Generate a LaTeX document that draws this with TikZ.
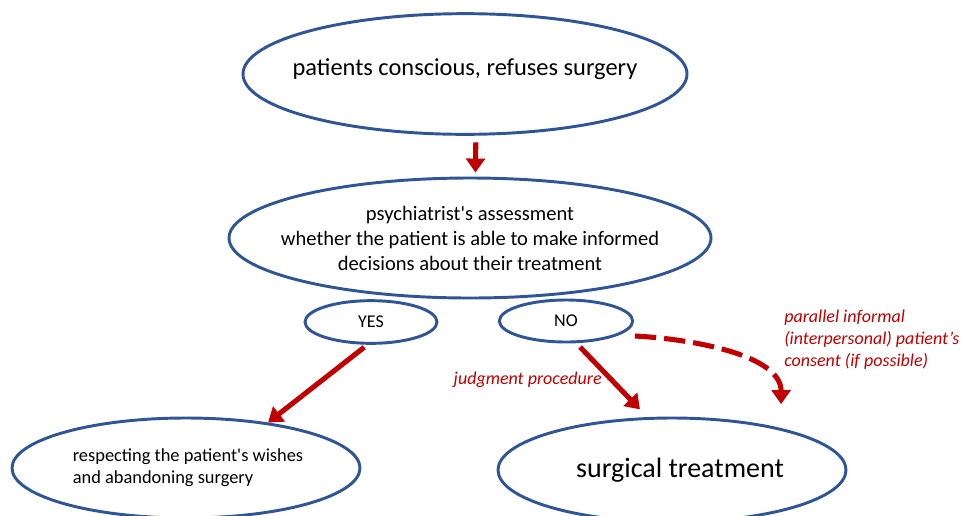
\documentclass[tikz,border=0pt]{standalone}
\usepackage{fontspec}
\setmainfont{Carlito}
\usepackage{tikz}
\usetikzlibrary{arrows.meta,shapes.geometric}
\definecolor{ovalblue}{HTML}{2F5597}
\definecolor{arrowred}{HTML}{C00000}

\begin{document}
\begin{tikzpicture}[x=0.75pt,y=-0.75pt,>={Triangle[width=14pt,length=10.5pt]}]
		\tikzstyle{oval}=[ellipse, draw=ovalblue, line width=2.2pt, inner sep=0pt]
		\tikzstyle{txt}=[align=center, inner sep=0pt]
		\tikzstyle{post}=[->, draw=arrowred, line width=3.8pt]
		\tikzstyle{post dashed}=[post, dash pattern=on 16pt off 6pt]
		\tikzstyle{note}=[text=arrowred, font=\itshape\fontsize{13.5}{16.5}\selectfont, align=left, inner sep=0pt]

		\useasboundingbox (0,0) rectangle (963,515);

		\node [oval, minimum width=333pt, minimum height=90.5pt,
			label={[txt, yshift=4pt, font=\fontsize{18.3}{22}\selectfont]center:patients conscious, refuses surgery}] (refuse) at (465,74) {};
		\node [oval, minimum width=361.5pt, minimum height=90pt,
			label={[txt, font=\fontsize{15.4}{18.75}\selectfont]center:psychiatrist\textquotesingle s assessment\\whether the patient is able to make informed\\decisions about their treatment}] (assess) at (470,238) {};
		\node [oval, minimum width=99pt, minimum height=32pt,
			label={[txt, font=\fontsize{13.5}{16}\selectfont]center:YES}] (yes) at (371,322) {};
		\node [oval, minimum width=100pt, minimum height=31.5pt,
			label={[txt, font=\fontsize{13.5}{16}\selectfont]center:NO}] (no) at (566,321) {};
		\node [oval, minimum width=261pt, minimum height=75pt,
			label={[txt, align=left, xshift=1.5pt, font=\fontsize{13.8}{16.5}\selectfont]center:respecting the patient\textquotesingle s wishes\\and abandoning surgery}] (keep) at (186,468) {};
		\node [oval, minimum width=261pt, minimum height=78pt,
			label={[txt, xshift=6pt, font=\fontsize{21}{25}\selectfont]center:surgical treatment}] (surg) at (672,470) {};

		\node [note, anchor=east] (judg) at (602,380) {judgment procedure};
		\node [note, anchor=west] (consent) at (784,340) {parallel informal\\(interpersonal) patient’s\\consent (if possible)};

		\draw [post, shorten <=5pt, shorten >=3pt] (refuse.-80) -- (assess.85);
		\draw [post, shorten <=3pt] (yes.261) -- (keep.29);
		\draw [post, shorten <=4pt, shorten >=8pt] (no.295) -- (surg.115);
		\draw [post dashed, shorten <=12pt, shorten >=18pt] (no.-15) to [out=-3, in=90] (surg.21);
	\end{tikzpicture}
\end{document}
